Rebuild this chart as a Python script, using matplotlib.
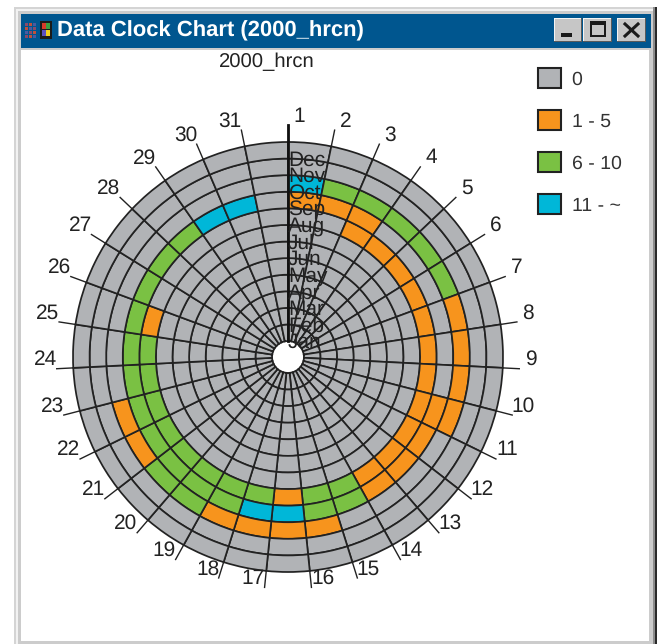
# -*- coding: utf-8 -*-
"""Data clock chart inside a small window frame."""
import numpy as np
import matplotlib.pyplot as plt
from matplotlib.patches import Patch, Rectangle

plt.rcParams["font.family"] = ["Liberation Sans", "DejaVu Sans"]
plt.rcParams["text.hinting"] = "no_hinting"

W, H = 659, 644
CX, CY, R_OUT = 288, 357, 215
HOLE = 0.96

months = ["Jan", "Feb", "Mar", "Apr", "May", "Jun", "Jul", "Aug", "Sep", "Oct", "Nov", "Dec"]
days = list(range(1, 32))
bin_labels = ["0", "1 - 5", "6 - 10", "11 - ~"]
bin_colors = ["#b1b3b6", "#f7941d", "#7ac143", "#00b7d8"]

# legend class of each day, months that are not listed are all class 0
aug_bins = [0, 0, 1, 1, 1, 1, 1, 1, 1, 1, 1, 1, 1, 2, 2, 1, 2, 2, 2, 2, 2, 2, 2, 2, 1, 0, 0, 0, 0, 0, 0]
sep_bins = [1, 1, 1, 0, 0, 0, 0, 0, 0, 1, 1, 1, 1, 2, 2, 3, 3, 2, 2, 2, 2, 2, 2, 2, 2, 2, 2, 2, 3, 3, 0]
oct_bins = [3, 2, 2, 2, 2, 2, 1, 1, 1, 1, 0, 0, 0, 0, 1, 1, 1, 1, 2, 2, 1, 1, 0, 0, 0, 0, 0, 0, 0, 0, 0]
month_bins = {"Aug": aug_bins, "Sep": sep_bins, "Oct": oct_bins}

fig = plt.figure(figsize=(W / 100, H / 100), dpi=100, facecolor="white")

# window frame, drawn in pixel coordinates
bg = fig.add_axes([0, 0, 1, 1], zorder=0)
bg.set_xlim(0, W)
bg.set_ylim(H, 0)
bg.axis("off")


def box(x0, y0, x1, y1, color, **kwargs):
    bg.add_patch(Rectangle((x0, y0), x1 - x0, y1 - y0, facecolor=color, edgecolor="none", **kwargs))


box(14, 7, 657, H, "#d4d4d4")
box(16, 9, 655, H, "#f2f2f2")
box(18, 11, 653, H, "#cccccc")
box(655, 7, 657, H, "#2a2a2a")
box(653, 7, 655, H, "#8c8c8c")
box(21, 50, 649, 641, "white")
box(21, 14, 651, 48, "#00568f")

# little title bar icon
for col, x in enumerate([25, 29, 33]):
    for row, y in enumerate([23, 27, 31, 35]):
        box(x, y, x + 3, y + 3, ["#8a4a6a", "#c0503a", "#4a5aa0"][(col + row) % 3])
box(40, 21, 52, 39, "#1a1a1a")
box(42, 23, 46, 29, "#d63a2a")
box(46, 23, 50, 29, "#3aa040")
box(42, 30, 46, 36, "#5a50c0")
box(46, 30, 50, 36, "#f0d020")

bg.text(57, 31, "Data Clock Chart (2000_hrcn)", color="white", fontsize=15.8, fontweight="bold",
        va="center", ha="left")

# title bar buttons
for x0, x1 in [(554, 582), (583, 612), (617, 646)]:
    box(x0, 18, x1, 42, "#5a5a5a")
    box(x0, 18, x1 - 1, 41, "#f4f4f4")
    box(x0 + 1, 19, x1 - 1, 41, "#c6c6c6")
box(561, 33, 572, 37, "#1a1a1a")
box(590, 21, 606, 37, "#1a1a1a")
box(592, 25, 604, 35, "#c6c6c6")
bg.plot([625, 638], [24, 36], color="#1a1a1a", lw=2.2)
bg.plot([625, 638], [36, 24], color="#1a1a1a", lw=2.2)

bg.text(267, 62, "2000_hrcn", fontsize=14.6, color="#222222", ha="center", va="center")

# the clock itself
ax = fig.add_axes([(CX - R_OUT) / W, 1 - (CY + R_OUT) / H, 2 * R_OUT / W, 2 * R_OUT / H],
                  projection="polar", zorder=1)
ax.patch.set_alpha(0)
ax.set_theta_zero_location("N")
ax.set_theta_direction(-1)
ax.set_rorigin(-HOLE)
ax.set_rlim(0, len(months))
ax.set_axis_off()

step = 2 * np.pi / len(days)
edge = "#222222"
for ring, month in enumerate(months):
    bins = month_bins.get(month, [0] * len(days))
    theta = (np.array(days) - 0.5) * step
    ax.bar(theta, 1, width=step, bottom=ring, color=[bin_colors[b] for b in bins],
           edgecolor=edge, linewidth=1.25, clip_on=False)

# spokes run out past the rim, each one carries its day number
for day in days:
    th = (day - 1) * step
    ax.plot([th, th], [len(months), 13], color=edge, lw=1.0, clip_on=False)
    side = 1 if np.sin(th) >= 0 else -1
    ax.annotate(str(day), (th, 13), xytext=(side * 8, 6.5), textcoords="offset points",
                fontsize=15, color="#222222", ha="center", va="center", annotation_clip=False)
ax.plot([0, 0], [0, 13], color="#111111", lw=2.0, clip_on=False, zorder=5)

for ring, month in enumerate(months):
    ax.annotate(month, (0, ring + 0.58), xytext=(0, -8), textcoords="offset points", fontsize=15,
                color="#222222", ha="left", va="center", annotation_clip=False, zorder=6)

handles = [Patch(facecolor=c, edgecolor="#222222", linewidth=1.5, label=t) for c, t in zip(bin_colors, bin_labels)]
leg = bg.legend(handles=handles, loc="upper left", bbox_to_anchor=(538 / W, 1 - 68 / H), frameon=False,
                fontsize=14, handlelength=1.18, handleheight=1.18, handletextpad=0.55, labelspacing=1.12,
                borderpad=0, borderaxespad=0, labelcolor="#333333")

fig.savefig("out.png", dpi=100)
